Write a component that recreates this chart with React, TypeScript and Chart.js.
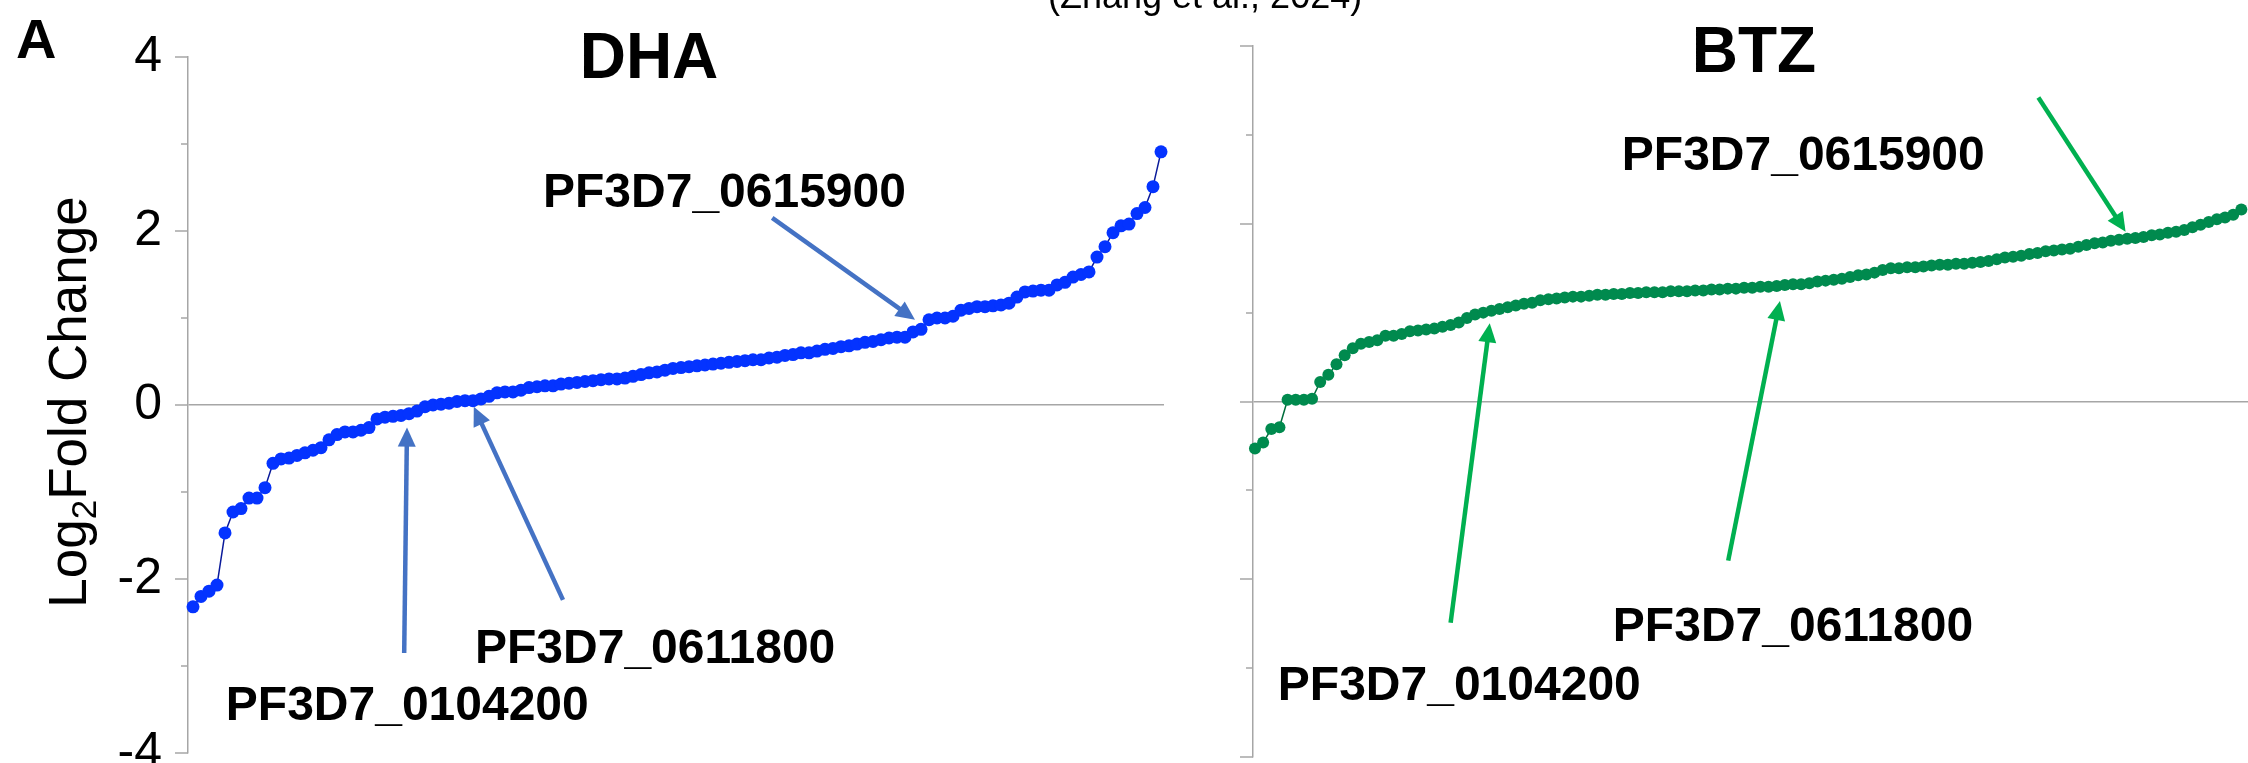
import React, { useEffect, useRef } from 'react';
import { Chart, registerables } from 'chart.js';

Chart.register(...registerables);

// ---------------- DATA ----------------
const dhaValues: number[] = [
  -2.32, -2.2, -2.14, -2.07, -1.47, -1.23, -1.19, -1.07, -1.07, -0.95,
  -0.67, -0.62, -0.61, -0.58, -0.55, -0.52, -0.49, -0.4, -0.34, -0.31,
  -0.31, -0.29, -0.26, -0.16, -0.14, -0.13, -0.12, -0.1, -0.07, -0.02,
  0.0, 0.01, 0.02, 0.04, 0.05, 0.05, 0.07, 0.1, 0.14, 0.15,
  0.15, 0.17, 0.2, 0.21, 0.22, 0.22, 0.24, 0.25, 0.26, 0.27,
  0.28, 0.29, 0.3, 0.3, 0.31, 0.33, 0.35, 0.37, 0.38, 0.4,
  0.42, 0.43, 0.44, 0.45, 0.46, 0.47, 0.48, 0.49, 0.5, 0.51,
  0.52, 0.52, 0.54, 0.55, 0.57, 0.58, 0.6, 0.6, 0.62, 0.64,
  0.65, 0.67, 0.68, 0.7, 0.72, 0.73, 0.75, 0.77, 0.78, 0.78,
  0.84, 0.87, 0.98, 1.0, 1.0, 1.02, 1.09, 1.11, 1.13, 1.13,
  1.14, 1.15, 1.17, 1.24, 1.3, 1.31, 1.32, 1.32, 1.38, 1.41,
  1.47, 1.5, 1.53, 1.7, 1.82, 1.98, 2.06, 2.08, 2.2, 2.27,
  2.51, 2.91,
];

const btzValues: number[] = [
  -0.53, -0.46, -0.31, -0.29, 0.02, 0.02, 0.02, 0.03, 0.22, 0.3,
  0.42, 0.52, 0.6, 0.65, 0.67, 0.69, 0.74, 0.74, 0.76, 0.79,
  0.8, 0.81, 0.82, 0.84, 0.86, 0.89, 0.94, 0.98, 1.0, 1.02,
  1.04, 1.06, 1.08, 1.1, 1.11, 1.14, 1.15, 1.16, 1.17, 1.18,
  1.18, 1.19, 1.2, 1.2, 1.21, 1.21, 1.22, 1.22, 1.23, 1.23,
  1.23, 1.24, 1.24, 1.24, 1.25, 1.25, 1.26, 1.26, 1.27, 1.27,
  1.28, 1.28, 1.29, 1.29, 1.3, 1.31, 1.32, 1.32, 1.33, 1.35,
  1.36, 1.37, 1.38, 1.4, 1.42, 1.43, 1.45, 1.48, 1.5, 1.5,
  1.51, 1.51, 1.52, 1.53, 1.54, 1.54, 1.55, 1.55, 1.56, 1.57,
  1.58, 1.6, 1.62, 1.63, 1.64, 1.66, 1.67, 1.69, 1.7, 1.71,
  1.72, 1.74, 1.76, 1.78, 1.79, 1.81, 1.82, 1.83, 1.84, 1.85,
  1.87, 1.88, 1.9, 1.91, 1.93, 1.96, 1.99, 2.02, 2.05, 2.07,
  2.1, 2.16,
];

const yTickValues: number[] = [-4, -3, -2, -1, 0, 1, 2, 3, 4];
const geneNames: string[] = ['PF3D7_0104200', 'PF3D7_0611800', 'PF3D7_0615900'];
const panelTitles: string[] = ['DHA', 'BTZ'];

// ---------------- STYLE / LAYOUT ----------------
const FONT = '"Liberation Sans", Arial, Helvetica, sans-serif';
const AXIS_COLOR = '#a6a6a6';

type Arrow = { x0: number; y0: number; x1: number; y1: number };
type Label = { text: string; x: number; y: number };

const dhaArrows: Arrow[] = [
  { x0: 26.4, y0: -2.85, x1: 26.75, y1: -0.26 },
  { x0: 46.25, y0: -2.24, x1: 35.1, y1: -0.02 },
  { x0: 72.4, y0: 2.15, x1: 90.25, y1: 0.98 },
];
const dhaLabels: Label[] = [
  { text: geneNames[0], x: 4.1, y: -3.62 },
  { text: geneNames[1], x: 35.25, y: -2.97 },
  { text: geneNames[2], x: 43.75, y: 2.28 },
];
const btzArrows: Arrow[] = [
  { x0: 24.0, y0: -2.49, x1: 28.8, y1: 0.88 },
  { x0: 58.05, y0: -1.79, x1: 64.4, y1: 1.13 },
  { x0: 96.1, y0: 3.42, x1: 106.8, y1: 1.91 },
];
const btzLabels: Label[] = [
  { text: geneNames[0], x: 2.8, y: -3.36 },
  { text: geneNames[1], x: 43.9, y: -2.69 },
  { text: geneNames[2], x: 45.0, y: 2.61 },
];

function drawArrow(ctx: CanvasRenderingContext2D, x0: number, y0: number, x1: number, y1: number, color: string) {
  const dx = x1 - x0;
  const dy = y1 - y0;
  const len = Math.hypot(dx, dy);
  const ux = dx / len;
  const uy = dy / len;
  const headLen = 19;
  const headHalf = 9;
  const bx = x1 - ux * headLen;
  const by = y1 - uy * headLen;
  ctx.save();
  ctx.strokeStyle = color;
  ctx.fillStyle = color;
  ctx.lineWidth = 4.5;
  ctx.beginPath();
  ctx.moveTo(x0, y0);
  ctx.lineTo(bx + ux * 2, by + uy * 2);
  ctx.stroke();
  ctx.beginPath();
  ctx.moveTo(x1, y1);
  ctx.lineTo(bx - uy * headHalf, by + ux * headHalf);
  ctx.lineTo(bx + uy * headHalf, by - ux * headHalf);
  ctx.closePath();
  ctx.fill();
  ctx.restore();
}

type PanelCfg = {
  key: string;
  title: string;
  titleX: number;
  titleY: number;
  arrows: Arrow[];
  labels: Label[];
  arrowColor: string;
  left: boolean;
};

function makePlugin(cfg: PanelCfg) {
  return {
    id: 'panelDecor_' + cfg.key,
    afterDraw(chart: any) {
      const { ctx, chartArea } = chart;
      const xs = chart.scales.x;
      const ys = chart.scales.y;
      ctx.save();
      // tick marks
      ctx.strokeStyle = AXIS_COLOR;
      ctx.lineWidth = 1.5;
      for (const v of yTickValues) {
        const py = Math.round(ys.getPixelForValue(v));
        const len = v % 2 === 0 ? 13 : 7;
        ctx.beginPath();
        ctx.moveTo(chartArea.left - len, py);
        ctx.lineTo(chartArea.left, py);
        ctx.stroke();
      }
      // arrows
      for (const a of cfg.arrows) {
        drawArrow(
          ctx,
          xs.getPixelForValue(a.x0),
          ys.getPixelForValue(a.y0),
          xs.getPixelForValue(a.x1),
          ys.getPixelForValue(a.y1),
          cfg.arrowColor
        );
      }
      // gene labels
      ctx.fillStyle = '#000';
      ctx.textBaseline = 'alphabetic';
      ctx.textAlign = 'left';
      ctx.font = `bold 48px ${FONT}`;
      for (const l of cfg.labels) {
        ctx.fillText(l.text, xs.getPixelForValue(l.x), ys.getPixelForValue(l.y));
      }
      // panel title
      ctx.textAlign = 'center';
      ctx.font = `bold 64px ${FONT}`;
      ctx.fillText(cfg.title, xs.getPixelForValue(cfg.titleX), ys.getPixelForValue(cfg.titleY));

      if (cfg.left) {
        // panel letter
        ctx.textAlign = 'left';
        ctx.font = `bold 56px ${FONT}`;
        ctx.fillText('A', 16, 58);
        // citation (cropped at top)
        ctx.font = `36px ${FONT}`;
        ctx.fillText('(Zhang et al., 2024)', 1048, 8);
        // y axis title with subscript
        const big = `53px ${FONT}`;
        const small = `35px ${FONT}`;
        const parts = [
          { t: 'Log', f: big, dy: 0 },
          { t: '2', f: small, dy: 10 },
          { t: 'Fold Change', f: big, dy: 0 },
        ];
        let total = 0;
        for (const p of parts) {
          ctx.font = p.f;
          total += ctx.measureText(p.t).width;
        }
        ctx.translate(86, (chartArea.top + chartArea.bottom) / 2 - 3);
        ctx.rotate(-Math.PI / 2);
        let cx = -total / 2;
        for (const p of parts) {
          ctx.font = p.f;
          ctx.fillText(p.t, cx, p.dy);
          cx += ctx.measureText(p.t).width;
        }
      }
      ctx.restore();
    },
  };
}

function buildConfig(
  values: number[],
  dotColor: string,
  lineColor: string,
  radius: number,
  xMin: number,
  xMax: number,
  padding: any,
  yWidth: number,
  showLabels: boolean,
  plugin: any
): any {
  return {
    type: 'line',
    data: {
      datasets: [
        {
          data: values.map((v, i) => ({ x: i, y: v })),
          borderColor: lineColor,
          borderWidth: 1.5,
          pointRadius: radius,
          pointBackgroundColor: dotColor,
          pointBorderColor: dotColor,
          pointBorderWidth: 0,
          pointHoverRadius: radius,
          tension: 0,
          fill: false,
          clip: false,
        },
      ],
    },
    options: {
      responsive: false,
      animation: false,
      devicePixelRatio: 1,
      layout: { padding },
      plugins: { legend: { display: false }, tooltip: { enabled: false }, title: { display: false } },
      events: [],
      scales: {
        x: { type: 'linear', min: xMin, max: xMax, display: false },
        y: {
          type: 'linear',
          min: -4,
          max: 4,
          afterFit: (scale: any) => {
            scale.width = yWidth;
            scale.paddingTop = 0;
            scale.paddingBottom = 0;
          },
          border: { display: true, color: AXIS_COLOR, width: 1.5 },
          grid: {
            drawTicks: false,
            lineWidth: 1.5,
            color: (c: any) => (c.tick && c.tick.value === 0 ? AXIS_COLOR : 'rgba(0,0,0,0)'),
          },
          ticks: {
            display: showLabels,
            stepSize: 1,
            autoSkip: false,
            padding: 26,
            color: '#000',
            font: { family: FONT, size: 50 },
            callback: (v: any) => (Number(v) % 2 === 0 ? String(v) : ''),
          },
        },
      },
    },
    plugins: [plugin],
  };
}

export default function App() {
  const leftRef = useRef<HTMLCanvasElement | null>(null);
  const rightRef = useRef<HTMLCanvasElement | null>(null);

  useEffect(() => {
    const leftPlugin = makePlugin({
      key: 'dha',
      title: panelTitles[0],
      titleX: 57,
      titleY: 3.76,
      arrows: dhaArrows,
      labels: dhaLabels,
      arrowColor: '#4472c4',
      left: true,
    });
    const rightPlugin = makePlugin({
      key: 'btz',
      title: panelTitles[1],
      titleX: 61.2,
      titleY: 3.71,
      arrows: btzArrows,
      labels: btzLabels,
      arrowColor: '#00b050',
      left: false,
    });
    const left = new Chart(
      leftRef.current as HTMLCanvasElement,
      buildConfig(
        dhaValues,
        '#0433ff',
        '#0a1a9a',
        6.5,
        -0.625,
        121.375,
        { top: 57, bottom: 10, left: 0, right: 1400 - 1164 },
        188,
        true,
        leftPlugin
      )
    );
    const right = new Chart(
      rightRef.current as HTMLCanvasElement,
      buildConfig(
        btzValues,
        '#008a4e',
        '#006d3c',
        6,
        -0.244,
        -0.244 + 1017 / 8.2,
        { top: 46, bottom: 1, left: 0, right: 0 },
        83,
        false,
        rightPlugin
      )
    );
    return () => {
      left.destroy();
      right.destroy();
    };
  }, []);

  return (
    <div
      style={{
        position: 'fixed',
        left: 0,
        top: 0,
        width: 2248,
        height: 763,
        overflow: 'hidden',
        background: '#ffffff',
      }}
    >
      <canvas
        ref={rightRef}
        width={1100}
        height={763}
        style={{ position: 'absolute', left: 1170, top: 0, width: 1100, height: 763, zIndex: 1 }}
      />
      <canvas
        ref={leftRef}
        width={1400}
        height={763}
        style={{ position: 'absolute', left: 0, top: 0, width: 1400, height: 763, zIndex: 2 }}
      />
    </div>
  );
}
